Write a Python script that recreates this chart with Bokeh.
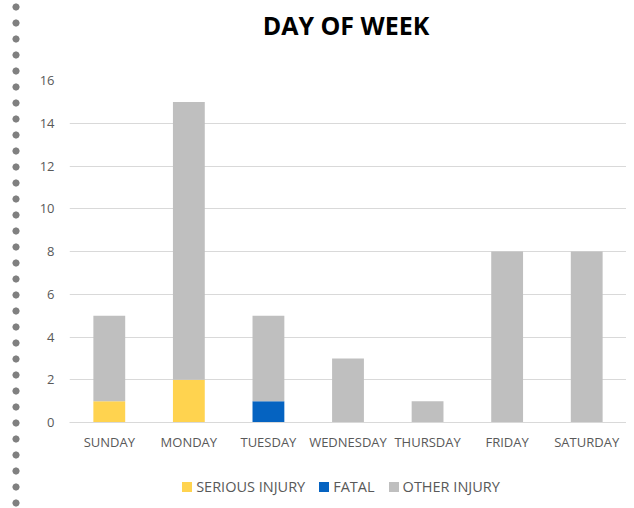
from bokeh.plotting import figure
from bokeh.models import Div
from bokeh.layouts import column
from bokeh.embed import file_html
from bokeh.resources import INLINE

title_text = "DAY OF WEEK"
days = ["SUNDAY", "MONDAY", "TUESDAY", "WEDNESDAY", "THURSDAY", "FRIDAY", "SATURDAY"]
serious = [1, 2, 0, 0, 0, 0, 0]
fatal = [0, 0, 1, 0, 0, 0, 0]
other = [4, 13, 4, 3, 1, 8, 8]
series = ["SERIOUS INJURY", "FATAL", "OTHER INJURY"]
colors = ["#FFD34F", "#0563C1", "#BFBFBF"]
y_ticks = [0, 2, 4, 6, 8, 10, 12, 14, 16]

data = {"days": days, "SERIOUS INJURY": serious, "FATAL": fatal, "OTHER INJURY": other}

FONT = "Open Sans"
TXT = "#595959"

title_div = Div(
    text=f'<div style="width:560px;margin-left:66px;height:52px;display:flex;justify-content:center;'
         f'align-items:center;font-family:\'{FONT}\';font-size:25px;font-weight:bold;color:#000000;'
         f'white-space:nowrap;">{title_text}</div>',
    width=626, height=52, margin=0,
)

p = figure(x_range=days, y_range=(0, 16), width=626, height=418,
           output_backend="svg", toolbar_location=None,
           min_border_left=69, min_border_right=0, min_border_top=28, min_border_bottom=48)

p.vbar_stack(series, x="days", width=0.4, source=data, color=colors, line_color=None)

p.outline_line_color = None
p.background_fill_color = "white"
p.border_fill_alpha = 0

p.xgrid.grid_line_color = None
p.ygrid.grid_line_color = "#D9D9D9"
p.ygrid.grid_line_width = 1
p.yaxis.ticker = y_ticks
p.yaxis.axis_line_color = None
p.yaxis.major_tick_line_color = None
p.yaxis.minor_tick_line_color = None
p.yaxis.major_tick_out = 0
p.yaxis.major_label_standoff = 15
p.yaxis.major_label_text_font = FONT
p.yaxis.major_label_text_font_size = "13px"
p.yaxis.major_label_text_color = TXT

p.xaxis.axis_line_color = "#D9D9D9"
p.xaxis.major_tick_line_color = None
p.xaxis.minor_tick_line_color = None
p.xaxis.major_tick_out = 0
p.xaxis.major_label_standoff = 10
p.xaxis.major_label_text_font = FONT
p.xaxis.major_label_text_font_size = "13px"
p.xaxis.major_label_text_color = TXT

items_html = "".join(
    f'<span style="display:inline-flex;align-items:center;margin:0 7px;">'
    f'<span style="display:inline-block;width:10px;height:10px;background:{c};margin-right:4px;"></span>'
    f'{s}</span>'
    for s, c in zip(series, colors)
)
legend_div = Div(
    text=f'<div style="width:570px;margin-left:56px;display:flex;justify-content:center;'
         f'align-items:center;height:34px;font-family:\'{FONT}\';font-size:14.5px;color:{TXT};'
         f'white-space:nowrap;">{items_html}</div>',
    width=626, height=38, margin=0,
)

layout = column(title_div, p, legend_div, spacing=0)
layout.styles = {
    "background-color": "white",
    "background-image": "radial-gradient(circle, #808080 3.2px, rgba(128,128,128,0) 3.9px)",
    "background-size": "16px 16px",
    "background-repeat": "repeat-y",
    "background-position": "8px -1px",
}

open("out.html", "w").write(file_html(layout, INLINE))
